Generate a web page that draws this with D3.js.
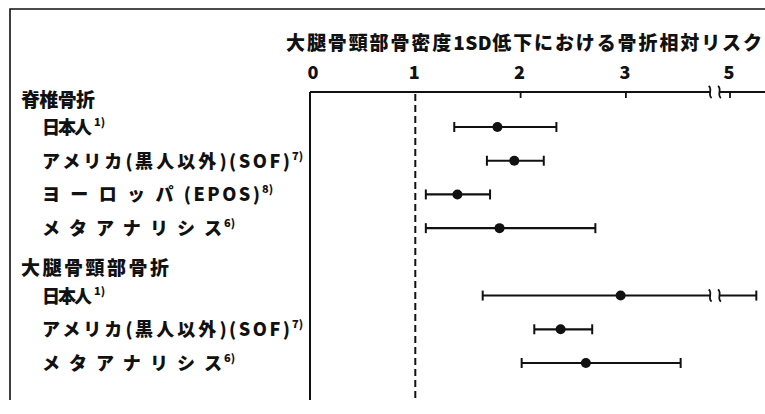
<!DOCTYPE html>
<html>
<head>
<meta charset="utf-8">
<script src="https://cdn.jsdelivr.net/npm/d3@7"></script>
<style>
  body { margin: 0; background: #fff; }
  svg { display: block; }
  text { font-family: "Noto Sans CJK JP", "Noto Sans", sans-serif; font-weight: 900; fill: #111; }
</style>
</head>
<body>
<div id="chart"></div>
<script>

var chartTitle = "大腿骨頸部骨密度1SD低下における骨折相対リスク";
var groupNames = ["脊椎骨折", "大腿骨頸部骨折"];
var studyNames = ["日本人", "アメリカ(黒人以外)(SOF)", "ヨーロッパ(EPOS)", "メタアナリシス",
                  "日本人", "アメリカ(黒人以外)(SOF)", "メタアナリシス"];
var studyRefs = ["1)", "7)", "8)", "6)", "1)", "7)", "6)"];
var studyGroup = [0, 0, 0, 0, 1, 1, 1];
var relRisk = [1.78, 1.94, 1.40, 1.80, 2.95, 2.38, 2.62];
var ciLow = [1.37, 1.68, 1.10, 1.10, 1.64, 2.13, 2.01];
var ciHigh = [2.34, 2.22, 1.71, 2.71, 5.25, 2.68, 3.52];
var tickValues = [0, 1, 2, 3, 5];
var breakLo = 3.8, breakHi = 4.9;

var width = 765, height = 414;

var svg = d3.select("#chart").append("svg")
    .attr("width", width)
    .attr("height", height);

// broken axis: same unit size on both sides, squeezed between breakLo and breakHi
var unit = 105.3;
var x = d3.scaleLinear()
    .domain([0, breakLo, breakHi, 6])
    .range([310, 310 + unit * breakLo, 730 - unit * (5 - breakHi), 730 + unit]);

// slots: header, studies..., header, studies...
var slots = [];
groupNames.forEach(function(g, gi) {
  slots.push("h" + gi);
  studyNames.forEach(function(s, i) {
    if (studyGroup[i] == gi) slots.push("s" + i);
  });
});
var y = d3.scalePoint().domain(slots).range([93.3, 363]);

var axisY = 92, plotBottom = 400;

// writes str into a text element, spreading the japanese runs to reach target width
// (the very last glyph gets no trailing space)
function spacedText(el, str, target, asciiSpacing) {
  var runs = str.match(/[\x00-\x7F]+|[^\x00-\x7F]+/g);
  asciiSpacing = asciiSpacing || 0;
  var last = runs[runs.length - 1];
  runs[runs.length - 1] = last.slice(0, -1);
  runs.push(last.slice(-1));
  var n = 0;
  runs.forEach(function(r, i) {
    if (!r) return;
    var ascii = /^[\x00-\x7F]/.test(r);
    var t = el.append("tspan").text(r);
    if (i == runs.length - 1) t.style("letter-spacing", "0px");
    else if (ascii) t.style("letter-spacing", asciiSpacing + "px");
    else { t.attr("class", "wide"); n += r.length; }
  });
  var natural = el.node().getComputedTextLength();
  var sp = n > 0 ? (target - natural) / n : 0;
  el.selectAll("tspan.wide").style("letter-spacing", sp + "px");
}

// frame
svg.append("path")
    .attr("d", "M10," + 400 + "V9H" + width)
    .attr("fill", "none")
    .attr("stroke", "#111")
    .attr("stroke-width", 1.6);

// title
var title = svg.append("text")
    .attr("x", 286)
    .attr("y", 50)
    .attr("font-size", "19px");
spacedText(title, chartTitle, 476, 0.5);

// tick labels
svg.selectAll(".ticklabel")
    .data(tickValues)
  .enter().append("text")
    .attr("class", "ticklabel")
    .attr("x", function(d) { return x(d) + (d == 0 ? 3 : -1); })
    .attr("y", 79)
    .attr("text-anchor", "middle")
    .attr("font-size", "18px")
    .text(function(d) { return d; });

// axis line with break
function breakMark(cx, cy) {
  return "M" + (cx - 1.5) + "," + (cy - 6) +
         "C" + (cx + 3) + "," + (cy - 3) + " " + (cx - 3) + "," + (cy + 3) + " " + (cx + 1.5) + "," + (cy + 6);
}
var xbL = x(breakLo), xbR = x(breakHi);

svg.append("line")
    .attr("x1", x(0)).attr("x2", xbL)
    .attr("y1", axisY).attr("y2", axisY)
    .attr("stroke", "#111").attr("stroke-width", 2);
svg.append("line")
    .attr("x1", xbR).attr("x2", width)
    .attr("y1", axisY).attr("y2", axisY)
    .attr("stroke", "#111").attr("stroke-width", 2);
svg.selectAll(".axisbreak")
    .data([xbL, xbR])
  .enter().append("path")
    .attr("class", "axisbreak")
    .attr("d", function(d) { return breakMark(d, axisY); })
    .attr("fill", "none").attr("stroke", "#111").attr("stroke-width", 1.8);

svg.selectAll(".tick")
    .data(tickValues.filter(function(d) { return d > 1; }))
  .enter().append("line")
    .attr("class", "tick")
    .attr("x1", function(d) { return x(d); })
    .attr("x2", function(d) { return x(d); })
    .attr("y1", axisY).attr("y2", axisY + 6)
    .attr("stroke", "#111").attr("stroke-width", 1.8);

// vertical axis at 0 and dashed reference at 1
svg.append("line")
    .attr("x1", x(0)).attr("x2", x(0))
    .attr("y1", axisY).attr("y2", plotBottom)
    .attr("stroke", "#111").attr("stroke-width", 2);
svg.append("line")
    .attr("x1", x(1)).attr("x2", x(1))
    .attr("y1", axisY + 2).attr("y2", plotBottom + 2)
    .attr("stroke", "#111").attr("stroke-width", 2)
    .attr("stroke-dasharray", "7,4");

// group headers
var headerWidth = [74, 148];
svg.selectAll(".header")
    .data(groupNames)
  .enter().append("text")
    .attr("class", "header")
    .attr("x", 21)
    .attr("y", function(d, i) { return y("h" + i) + 13.5; })
    .attr("font-size", "19px")
    .each(function(d, i) { spacedText(d3.select(this), d, headerWidth[i]); });

// study labels
var labelWidth = {"日本人": 50, "アメリカ(黒人以外)(SOF)": 248, "ヨーロッパ(EPOS)": 218, "メタアナリシス": 180};
var rows = studyNames.map(function(s, i) {
  return {name: s, ref: studyRefs[i], rr: relRisk[i], lo: ciLow[i], hi: ciHigh[i], key: "s" + i};
});

svg.selectAll(".label")
    .data(rows)
  .enter().append("text")
    .attr("class", "label")
    .attr("x", 42)
    .attr("y", function(d) { return y(d.key) + 7; })
    .attr("font-size", "18px")
    .each(function(d) { spacedText(d3.select(this), d.name, labelWidth[d.name], 2.5); });

svg.selectAll(".ref")
    .data(rows)
  .enter().append("text")
    .attr("class", "ref")
    .attr("x", function(d) { return 44 + labelWidth[d.name]; })
    .attr("y", function(d) { return y(d.key) - 1; })
    .attr("font-size", "11px")
    .text(function(d) { return d.ref; });

// error bars
var bars = svg.selectAll(".bar")
    .data(rows)
  .enter().append("g")
    .attr("class", "bar")
    .attr("transform", function(d) { return "translate(0," + y(d.key) + ")"; });

bars.each(function(d) {
  var g = d3.select(this);
  if (d.hi > breakHi) {
    g.append("line")
        .attr("x1", x(d.lo)).attr("x2", xbL)
        .attr("stroke", "#111").attr("stroke-width", 2);
    g.append("line")
        .attr("x1", xbR).attr("x2", x(d.hi))
        .attr("stroke", "#111").attr("stroke-width", 2);
    g.selectAll(".rowbreak")
        .data([xbL, xbR])
      .enter().append("path")
        .attr("d", function(b) { return breakMark(b, 0); })
        .attr("fill", "none").attr("stroke", "#111").attr("stroke-width", 1.8);
  } else {
    g.append("line")
        .attr("x1", x(d.lo)).attr("x2", x(d.hi))
        .attr("stroke", "#111").attr("stroke-width", 2.2);
  }
  g.selectAll(".cap")
      .data([d.lo, d.hi])
    .enter().append("line")
      .attr("x1", function(v) { return x(v); })
      .attr("x2", function(v) { return x(v); })
      .attr("y1", -5).attr("y2", 5)
      .attr("stroke", "#111").attr("stroke-width", 2);
  g.append("circle")
      .attr("cx", x(d.rr))
      .attr("r", 5)
      .attr("fill", "#111");
});

</script>
</body>
</html>
